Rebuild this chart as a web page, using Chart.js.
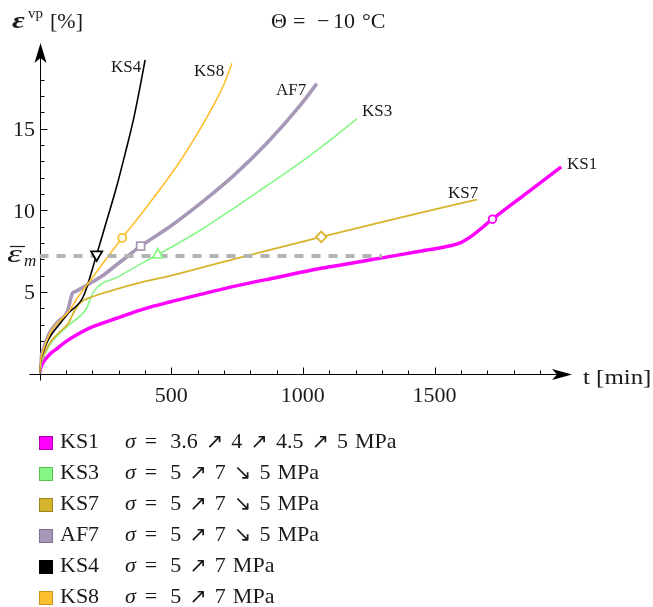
<!DOCTYPE html>
<html>
<head>
<meta charset="utf-8">
<script src="https://cdn.jsdelivr.net/npm/chart.js@4.4.1/dist/chart.umd.min.js"></script>
<style>
  html, body { margin: 0; padding: 0; background: #fff; }
  canvas { display: block; }
</style>
</head>
<body>
<canvas id="chart" width="653" height="607"></canvas>
<script>
// creep curves, [t in min, strain in %]
const ks1 = [[0,0],[5,0.35],[10,0.55],[20,0.82],[40,1.2],[60,1.45],[100,1.95],[150,2.45],[200,2.85],[300,3.42],[400,3.97],[500,4.4],[600,4.8],[760,5.41],[900,5.88],[1065,6.43],[1140,6.63],[1300,7.08],[1450,7.5],[1560,7.82],[1600,8.02],[1635,8.35],[1720,9.45],[1850,11.05],[1981,12.65]];
const ks3 = [[0,0],[5,0.55],[15,1.0],[30,1.5],[50,2.0],[80,2.5],[110,2.95],[177,3.95],[205,5.0],[300,5.93],[400,6.85],[449,7.27],[609,8.76],[736,10.1],[863,11.5],[989,12.9],[1116,14.45],[1205,15.6]];
const ks7 = [[0,0],[5,0.6],[15,1.1],[30,1.6],[46,2.02],[80,2.6],[110,3.08],[130,3.75],[152,4.3],[200,4.7],[300,5.2],[400,5.64],[500,6.0],[760,7.1],[1070,8.37],[1350,9.47],[1661,10.65]];
const af7 = [[0,0],[5,0.9],[15,1.5],[30,2.2],[46,2.7],[75,3.25],[105,3.75],[125,4.9],[140,5.05],[200,5.6],[236,5.95],[300,6.75],[384,7.8],[500,9.05],[610,10.4],[736,12.1],[863,14.1],[989,16.4],[1053,17.75]];
const ks4 = [[0,0],[5,0.8],[15,1.35],[30,1.95],[46,2.4],[75,3.0],[110,3.7],[166,4.7],[217,7.28],[255,9.35],[293,11.45],[325,13.45],[356,15.5],[380,17.4],[401,19.2]];
const ks8 = [[0,0],[5,0.85],[15,1.45],[30,2.1],[46,2.65],[75,3.2],[110,3.77],[147,4.7],[200,5.85],[236,6.65],[314,8.3],[407,10.2],[534,13.0],[600,14.7],[660,16.4],[700,17.7],[731,19.0]];

// one marker per curve
const markerPoints = [[1720,9.45],[449,7.27],[1070,8.37],[384,7.8],[217,7.28],[314,8.3]];

const seriesNames = ['KS1','KS3','KS7','AF7','KS4','KS8'];
const seriesData = [ks1, ks3, ks7, af7, ks4, ks8];
const legendTokens = [
  ['3.6','↗','4','↗','4.5','↗','5','MPa'],
  ['5','↗','7','↘','5','MPa'],
  ['5','↗','7','↘','5','MPa'],
  ['5','↗','7','↘','5','MPa'],
  ['5','↗','7','MPa'],
  ['5','↗','7','MPa']
];

const meanStrain = 7.2;      // dashed reference level
const meanStrainEnd = 1300;
const xTicks = [500, 1000, 1500];
const yTicks = [5, 10, 15];

const colors = ['#ff00ff', '#86f786', '#d6b52c', '#a898b8', '#000000', '#fdbf2d'];
const swatchBorders = ['#b000b0', '#55c455', '#9c8420', '#7d6f8e', '#000000', '#c9941a'];
const widths = [3.5, 1.6, 1.8, 3.6, 1.6, 1.6];
const markerStyle = [
  { style: 'circle', r: 3.8, rot: 0 },
  { style: 'triangle', r: 6, rot: 0 },
  { style: 'rectRot', r: 5.3, rot: 0 },
  { style: 'rect', r: 5.6, rot: 0 },
  { style: 'triangle', r: 6.4, rot: 180 },
  { style: 'circle', r: 4, rot: 0 }
];

const SERIF = '"Liberation Serif", "Times New Roman", serif';

const pts = arr => arr.map(([x, y]) => ({ x, y }));

const datasets = [];
seriesData.forEach((d, i) => {
  datasets.push({
    label: seriesNames[i],
    data: pts(d),
    borderColor: colors[i],
    borderWidth: widths[i],
    cubicInterpolationMode: 'monotone',
    pointRadius: 0,
    fill: false,
    order: 20 - i
  });
});
datasets.push({
  label: 'mean',
  data: [{ x: 0, y: meanStrain }, { x: meanStrainEnd, y: meanStrain }],
  borderColor: '#b3b3b3',
  borderWidth: 4,
  borderDash: [9, 8],
  pointRadius: 0,
  fill: false,
  order: 5
});
markerPoints.forEach((p, i) => {
  datasets.push({
    label: seriesNames[i] + ' marker',
    data: [{ x: p[0], y: p[1] }],
    showLine: false,
    pointStyle: markerStyle[i].style,
    pointRadius: markerStyle[i].r,
    pointRotation: markerStyle[i].rot,
    pointBackgroundColor: '#ffffff',
    pointBorderColor: colors[i],
    pointBorderWidth: 1.8,
    order: 0
  });
});

// curve labels, placed next to line ends
const curveLabels = [
  ['KS4', 111, 72], ['KS8', 194, 76], ['AF7', 276, 95],
  ['KS3', 362, 116], ['KS1', 567, 169], ['KS7', 448, 198]
];

function seg(ctx, x1, y1, x2, y2) {
  ctx.beginPath(); ctx.moveTo(x1, y1); ctx.lineTo(x2, y2); ctx.stroke();
}

// draw text stretched horizontally (math glyphs are wider than Times)
function wideText(ctx, txt, x, y, sx) {
  ctx.save();
  ctx.translate(x, y);
  ctx.scale(sx, 1);
  ctx.fillText(txt, 0, 0);
  ctx.restore();
}

const axesPlugin = {
  id: 'axes',
  beforeDatasetsDraw(chart) {
    const { ctx, scales: { x, y } } = chart;
    const x0 = Math.round(x.getPixelForValue(0)) + 0.5;
    const y0 = Math.round(y.getPixelForValue(0)) + 0.5;
    const xEnd = x.right, yTop = y.top;
    ctx.save();
    ctx.strokeStyle = '#000';
    ctx.fillStyle = '#000';
    ctx.lineWidth = 1;
    seg(ctx, x0 - 11, y0, xEnd - 6, y0);
    seg(ctx, x0, y0 + 6, x0, yTop + 6);
    for (let t = 100; t < 2000; t += 100) {
      const px = Math.round(x.getPixelForValue(t)) + 0.5;
      seg(ctx, px, y0, px, y0 - (t % 500 === 0 ? 7 : 4));
    }
    for (let e = 1; e <= 18; e++) {
      const py = Math.round(y.getPixelForValue(e)) + 0.5;
      seg(ctx, x0, py, x0 + (e % 5 === 0 ? 7 : 4), py);
    }
    // arrow heads
    ctx.beginPath();
    ctx.moveTo(xEnd, y0);
    ctx.lineTo(xEnd - 20, y0 - 5.5);
    ctx.lineTo(xEnd - 15, y0);
    ctx.lineTo(xEnd - 20, y0 + 5.5);
    ctx.closePath(); ctx.fill();
    ctx.beginPath();
    ctx.moveTo(x0, yTop);
    ctx.lineTo(x0 - 6, yTop + 20);
    ctx.lineTo(x0, yTop + 15);
    ctx.lineTo(x0 + 6, yTop + 20);
    ctx.closePath(); ctx.fill();
    ctx.restore();
  },
  afterDraw(chart) {
    const { ctx, scales: { x, y } } = chart;
    ctx.save();
    ctx.fillStyle = '#1a1a1a';
    ctx.textBaseline = 'alphabetic';

    // tick labels
    ctx.font = '22px ' + SERIF;
    ctx.textAlign = 'right';
    yTicks.forEach(v => ctx.fillText(String(v), 35, y.getPixelForValue(v) + 7.5));
    ctx.textAlign = 'center';
    xTicks.forEach(v => ctx.fillText(String(v), x.getPixelForValue(v), 402));

    // axis labels and title
    ctx.textAlign = 'left';
    wideText(ctx, 't [min]', 583, 384, 1.13);
    ctx.fillText('[%]', 50, 28);
    ctx.fillText('Θ', 271, 28);
    ctx.fillText('=', 293, 28);
    ctx.fillText('−', 317, 28);
    ctx.fillText('10', 333, 28);
    ctx.fillText('°C', 362, 28);
    ctx.font = 'bold italic 24px ' + SERIF;
    wideText(ctx, 'ε', 12, 28, 1.3);
    ctx.font = '15px ' + SERIF;
    ctx.fillText('vp', 28, 18);

    // mean strain label
    ctx.font = 'italic 26px ' + SERIF;
    wideText(ctx, 'ε', 7, 262, 1.45);
    ctx.font = 'italic 17px ' + SERIF;
    ctx.fillText('m', 24, 266);
    ctx.strokeStyle = '#1a1a1a';
    ctx.lineWidth = 1.2;
    seg(ctx, 10, 246.5, 25, 246.5);

    // curve labels
    ctx.font = '17px ' + SERIF;
    curveLabels.forEach(([t, lx, ly]) => ctx.fillText(t, lx, ly));

    // legend
    seriesNames.forEach((name, i) => {
      const b = 448 + 31 * i;
      ctx.fillStyle = colors[i];
      ctx.fillRect(39.5, b - 11.5, 13, 13);
      ctx.strokeStyle = swatchBorders[i];
      ctx.lineWidth = 1;
      ctx.strokeRect(39.5, b - 11.5, 13, 13);
      ctx.fillStyle = '#1a1a1a';
      ctx.font = '22px ' + SERIF;
      ctx.fillText(name, 60, b);
      let cx = 125;
      ctx.font = 'italic 22px ' + SERIF;
      ctx.fillText('σ', cx, b);
      cx += ctx.measureText('σ').width + 9;
      ctx.font = '22px ' + SERIF;
      ctx.fillText('=', cx, b);
      cx += ctx.measureText('=').width + 13;
      legendTokens[i].forEach(tok => {
        if (tok === '↗' || tok === '↘') {
          ctx.font = '21px "DejaVu Sans", sans-serif';
        } else {
          ctx.font = '22px ' + SERIF;
        }
        if (tok === 'MPa') cx -= 1;
        ctx.fillText(tok, cx, b);
        cx += ctx.measureText(tok).width + 8;
      });
    });
    ctx.restore();
  }
};

new Chart(document.getElementById('chart'), {
  type: 'line',
  data: { datasets },
  options: {
    responsive: false,
    animation: false,
    layout: { padding: { left: 39.5, right: 81, top: 43, bottom: 233.5 } },
    scales: {
      x: { type: 'linear', min: 0, max: 2022, display: false },
      y: { type: 'linear', min: 0, max: 20.24, display: false }
    },
    plugins: { legend: { display: false }, tooltip: { enabled: false } },
    elements: { line: { tension: 0, borderCapStyle: 'butt' } }
  },
  plugins: [axesPlugin]
});
</script>
</body>
</html>
